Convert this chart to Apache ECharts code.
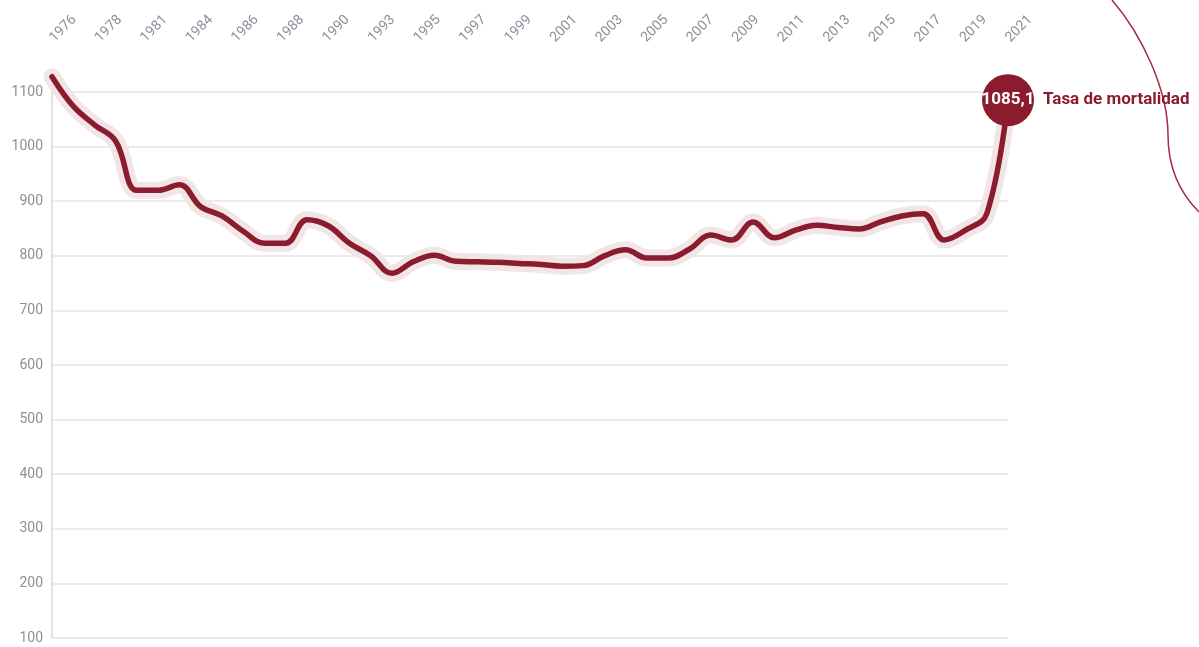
<!DOCTYPE html>
<html>
<head>
<meta charset="utf-8">
<title>Tasa de mortalidad</title>
<script src="https://cdn.jsdelivr.net/npm/echarts@6/dist/echarts.min.js"></script>
<style>
  html, body { margin: 0; padding: 0; background: #fff; }
  #chart { width: 1199px; height: 647px; }
</style>
</head>
<body>
<div id="chart"></div>
<script>
  // años de la serie (eje oculto) y etiquetas que se ven arriba
  var years = ['1976','1977','1978','1979','1980','1981','1982','1983','1984','1985',
               '1986','1987','1988','1989','1990','1991','1992','1993','1994','1995',
               '1996','1997','1998','1999','2000','2001','2002','2003','2004','2005',
               '2006','2007','2008','2009','2010','2011','2012','2013','2014','2015',
               '2016','2017','2018','2019','2020','2021'];
  var tasa = [1128, 1074, 1040, 1010, 920, 920, 930, 890, 873, 845,
              823, 823, 866, 855, 823, 800, 768, 789, 801, 790,
              789, 788, 786, 784, 781, 782, 800, 811, 796, 796,
              812, 838, 829, 862, 833, 847, 856, 852, 849, 862,
              873, 877, 829, 847, 877, 1085.1];
  var tickLabels = ['1976','1978','1981','1984','1986','1988','1990','1993','1995','1997','1999',
                    '2001','2003','2005','2007','2009','2011','2013','2015','2017','2019','2021'];
  var serieName = 'Tasa de mortalidad';

  var granate = '#8b1c2e';
  var myChart = echarts.init(document.getElementById('chart'));
  var lastIdx = tasa.length - 1;

  var lineData = tasa.map(function (v, i) {
    if (i !== lastIdx) return v;
    return {
      value: v,
      label: {
        show: true,
        position: 'inside',
        color: '#fff',
        fontFamily: 'Roboto',
        fontWeight: 'bold',
        fontSize: 17,
        formatter: function (p) {
          return p.value.toFixed(1).replace('.', ',');
        }
      }
    };
  });

  var option = {
    animation: false,
    grid: { left: 52, right: 191, top: 92, bottom: 9 },
    xAxis: [
      {
        type: 'category',
        data: years,
        boundaryGap: false,
        show: false
      },
      {
        type: 'category',
        data: tickLabels,
        position: 'top',
        boundaryGap: false,
        axisLine: { show: false },
        axisTick: { show: false },
        splitLine: { show: false },
        axisLabel: {
          interval: 0,
          rotate: -45,
          margin: 52,
          color: '#8a8f99',
          fontFamily: 'Roboto',
          fontSize: 14
        }
      }
    ],
    yAxis: {
      type: 'value',
      min: 100,
      max: 1100,
      interval: 100,
      axisLine: { show: true, lineStyle: { color: '#e3e3e3', width: 2 } },
      axisTick: { show: false },
      splitLine: { lineStyle: { color: '#e4e4e4', width: 1.5 } },
      axisLabel: {
        margin: 9,
        color: '#8a8f99',
        fontFamily: 'Roboto',
        fontSize: 14,
        formatter: function (v) { return String(v); }
      }
    },
    graphic: [
      {
        type: 'bezierCurve',
        shape: { x1: 1112, y1: 0, cpx1: 1142, cpy1: 35, cpx2: 1168, cpy2: 90, x2: 1168, y2: 135 },
        style: { stroke: '#a62848', lineWidth: 1.5, fill: null }
      },
      {
        type: 'bezierCurve',
        shape: { x1: 1168, y1: 135, cpx1: 1168, cpy1: 172, cpx2: 1182, cpy2: 195, x2: 1199, y2: 212 },
        style: { stroke: '#a62848', lineWidth: 1.5, fill: null }
      }
    ],
    series: [
      {
        name: 'halo',
        type: 'line',
        data: tasa,
        smooth: 0.4,
        symbol: 'none',
        clip: false,
        silent: true,
        z: 1,
        lineStyle: { color: '#f2e5e7', width: 17, cap: 'round', join: 'round' }
      },
      {
        name: serieName,
        type: 'line',
        data: lineData,
        smooth: 0.4,
        symbol: 'circle',
        showSymbol: true,
        showAllSymbol: true,
        symbolSize: function (v, p) { return p.dataIndex === lastIdx ? 52 : 0; },
        itemStyle: { color: granate },
        clip: false,
        z: 3,
        lineStyle: { color: granate, width: 5.5, cap: 'round', join: 'round' },
        endLabel: {
          show: true,
          distance: 35,
          formatter: function (p) { return p.seriesName; },
          color: granate,
          fontFamily: 'Roboto',
          fontWeight: 'bold',
          fontSize: 17
        }
      }
    ]
  };

  if (option && typeof option === 'object') {
    myChart.setOption(option, true);
  }
</script>
</body>
</html>
